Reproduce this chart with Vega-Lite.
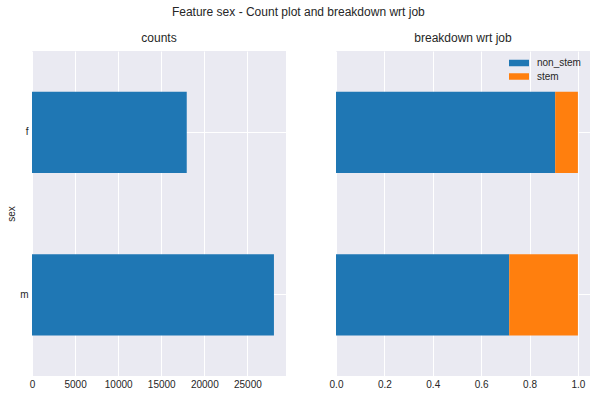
{
  "$schema": "https://vega.github.io/schema/vega-lite/v6.json",
  "padding": {"left": 6, "top": 6, "right": 5, "bottom": 5},
  "background": "white",
  "title": {"text": "Feature sex - Count plot and breakdown wrt job", "fontSize": 12, "font": "Liberation Sans", "fontWeight": "normal", "color": "#262626", "anchor": "middle", "offset": 13},
  "datasets": {
    "counts": [{"sex": "f", "count": 17960}, {"sex": "m", "count": 28080}],
    "breakdown": [
      {"sex": "f", "job": "non_stem", "frac": 0.906},
      {"sex": "f", "job": "stem", "frac": 0.094},
      {"sex": "m", "job": "non_stem", "frac": 0.716},
      {"sex": "m", "job": "stem", "frac": 0.284}
    ]
  },
  "spacing": 43,
  "resolve": {"legend": {"color": "independent"}},
  "hconcat": [
    {
      "width": 254,
      "height": 325,
      "title": {"text": "counts", "fontSize": 12, "font": "Liberation Sans", "fontWeight": "normal", "color": "#262626", "offset": 6},
      "data": {"name": "counts"},
      "mark": {"type": "bar", "color": "#1f77b4"},
      "encoding": {
        "y": {"field": "sex", "type": "nominal", "scale": {"paddingInner": 0.5, "paddingOuter": 0.25},
              "axis": {"title": "sex", "grid": true, "labelAngle": 0, "labelPadding": 4, "titlePadding": 3, "titleFontSize": 10}},
        "x": {"field": "count", "type": "quantitative", "scale": {"domain": [0, 29480], "nice": false},
              "axis": {"title": null, "values": [0, 5000, 10000, 15000, 20000, 25000], "format": "d", "labelPadding": 3, "labelFlush": false}}
      }
    },
    {
      "width": 254,
      "height": 325,
      "title": {"text": "breakdown wrt job", "fontSize": 12, "font": "Liberation Sans", "fontWeight": "normal", "color": "#262626", "offset": 6},
      "data": {"name": "breakdown"},
      "mark": {"type": "bar"},
      "encoding": {
        "y": {"field": "sex", "type": "nominal", "scale": {"paddingInner": 0.5, "paddingOuter": 0.25},
              "axis": {"title": null, "grid": true, "labels": false}},
        "x": {"field": "frac", "type": "quantitative", "stack": "zero", "scale": {"domain": [0, 1.05], "nice": false},
              "axis": {"title": null, "values": [0, 0.2, 0.4, 0.6, 0.8, 1.0], "format": ".1f", "labelPadding": 3, "labelFlush": false}},
        "color": {"field": "job", "type": "nominal", "scale": {"domain": ["non_stem", "stem"], "range": ["#1f77b4", "#ff7f0e"]},
                  "legend": {"title": null, "orient": "none", "legendX": 178, "legendY": 7, "symbolType": "M-2,-0.65h4v1.3h-4z", "symbolSize": 100, "symbolStrokeWidth": 0, "symbolOpacity": 1, "rowPadding": 3.5, "labelOffset": 13, "labelFontSize": 10, "labelFont": "Liberation Sans", "labelColor": "#262626", "padding": 0}},
        "order": {"field": "job"}
      }
    }
  ],
  "config": {
    "view": {"fill": "#EAEAF2", "stroke": null},
    "axis": {"domain": false, "ticks": false, "gridColor": "#ffffff", "gridWidth": 1, "gridOpacity": 1,
             "labelFont": "Liberation Sans", "labelFontSize": 10, "labelColor": "#262626", "labelPadding": 4,
             "titleFont": "Liberation Sans", "titleFontWeight": "normal", "titleColor": "#262626"},
    "bar": {"stroke": null}
  }
}
